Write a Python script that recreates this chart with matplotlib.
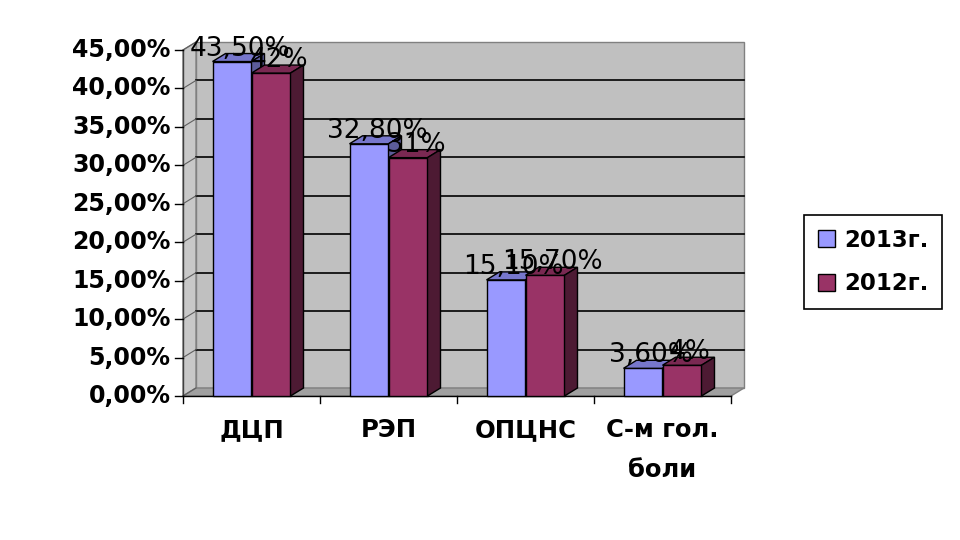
import matplotlib
matplotlib.use("Agg")
import matplotlib.pyplot as plt
from matplotlib.patches import Polygon, Patch

categories = ["ДЦП", "РЭП", "ОПЦНС", "С-м гол.\nболи"]
series_names = ["2013г.", "2012г."]
values_2013 = [43.5, 32.8, 15.1, 3.6]
values_2012 = [42.0, 31.0, 15.7, 4.0]
labels_2013 = ["43,50%", "32,80%", "15,10%", "3,60%"]
labels_2012 = ["42%", "31%", "15,70%", "4%"]
yticks = [0, 5, 10, 15, 20, 25, 30, 35, 40, 45]
ytick_labels = ["0,00%", "5,00%", "10,00%", "15,00%", "20,00%", "25,00%",
                "30,00%", "35,00%", "40,00%", "45,00%"]

front_colors = ["#9999FF", "#993366"]
top_colors = ["#7777CC", "#7A2952"]
side_colors = ["#5C5C99", "#4D1A33"]

plt.rcParams['font.family'] = ['DejaVu Sans']

W, H = 960, 540
fig = plt.figure(figsize=(9.6, 5.4), dpi=100)
fig.patch.set_facecolor("white")

x_left_px, x_right_px = 183, 731
y0_px, y45_px = 396, 50
ax = fig.add_axes([x_left_px / W, (H - y0_px) / H,
                   (x_right_px - x_left_px) / W, (y0_px - y45_px) / H])
ax.set_xlim(-0.5, 3.5)
ax.set_ylim(0, 45)
ax.axis("off")

px_per_x = (x_right_px - x_left_px) / 4.0
px_per_y = (y0_px - y45_px) / 45.0
DX = 13 / px_per_x
DY = 8 / px_per_y
xmin, xmax, ymax = -0.5, 3.5, 45

# walls
back = Polygon([(xmin + DX, DY), (xmax + DX, DY), (xmax + DX, ymax + DY), (xmin + DX, ymax + DY)],
               closed=True, facecolor="#C0C0C0", edgecolor="#808080", lw=1, clip_on=False, zorder=1)
ax.add_patch(back)
left = Polygon([(xmin, 0), (xmin + DX, DY), (xmin + DX, ymax + DY), (xmin, ymax)],
               closed=True, facecolor="#C8C8C8", edgecolor="#808080", lw=1, clip_on=False, zorder=1)
ax.add_patch(left)
floor = Polygon([(xmin, 0), (xmax, 0), (xmax + DX, DY), (xmin + DX, DY)],
                closed=True, facecolor="#A0A0A0", edgecolor="#808080", lw=1, clip_on=False, zorder=1)
ax.add_patch(floor)

# gridlines
for t in yticks[1:-1]:
    ax.plot([xmin + DX, xmax + DX], [t + DY, t + DY], color="black", lw=1.2, zorder=2, clip_on=False)
for t in yticks:
    ax.plot([xmin, xmin + DX], [t, t + DY], color="#606060", lw=0.8, zorder=2, clip_on=False)

# front axes lines and ticks
ax.plot([xmin, xmin], [0, ymax], color="#404040", lw=1, zorder=3, clip_on=False)
ax.plot([xmin, xmax], [0, 0], color="black", lw=1, zorder=3, clip_on=False)
tick_dx = 8 / px_per_x
tick_dy = 7 / px_per_y
for t, lab in zip(yticks, ytick_labels):
    ax.plot([xmin - tick_dx, xmin], [t, t], color="black", lw=1, zorder=3, clip_on=False)
    ax.annotate(lab, xy=(xmin, t), xytext=(-9, 0), textcoords="offset points",
                ha="right", va="center", fontsize=17, fontweight="bold", annotation_clip=False)
for b in range(5):
    xb = xmin + b
    ax.plot([xb, xb], [0, -tick_dy], color="black", lw=1, zorder=3, clip_on=False)

# bars
bw = 39 / px_per_x
all_vals = [values_2013, values_2012]
all_labs = [labels_2013, labels_2012]
for i in range(len(categories)):
    for s in range(2):
        v = all_vals[s][i]
        x0 = i - bw + s * bw
        x1 = x0 + bw
        z = 5 + s * 3
        ax.bar(x0, v, width=bw, align="edge", color=front_colors[s], edgecolor="black",
               lw=1, zorder=z, clip_on=False)
        top = Polygon([(x0, v), (x1, v), (x1 + DX, v + DY), (x0 + DX, v + DY)], closed=True,
                      facecolor=top_colors[s], edgecolor="black", lw=1, zorder=z + 1, clip_on=False)
        ax.add_patch(top)
        side = Polygon([(x1, 0), (x1 + DX, DY), (x1 + DX, v + DY), (x1, v)], closed=True,
                       facecolor=side_colors[s], edgecolor="black", lw=1, zorder=z + 1, clip_on=False)
        ax.add_patch(side)

for i in range(len(categories)):
    for s in range(2):
        v = all_vals[s][i]
        xc = i - bw / 2 + s * bw
        ax.annotate(all_labs[s][i], xy=(xc + DX / 2, v + DY), xytext=(1, -1.5),
                    textcoords="offset points", ha="center", va="baseline",
                    fontsize=19, color="black", zorder=20, annotation_clip=False)

# category labels
for i, c in enumerate(categories):
    ax.annotate(c, xy=(i, 0), xytext=(0, -16), textcoords="offset points",
                ha="center", va="top", fontsize=17.5, fontweight="bold",
                linespacing=1.85, multialignment="center", annotation_clip=False)

# legend
handles = [Patch(facecolor=front_colors[k], edgecolor="black", label=series_names[k]) for k in range(2)]
leg = fig.legend(handles=handles, loc="center", bbox_to_anchor=(873 / W, (H - 262) / H),
                 frameon=True, fancybox=False, framealpha=1, edgecolor="black",
                 prop={"size": 16.5, "weight": "bold"}, labelspacing=0.9,
                 handlelength=0.75, handleheight=0.75, handletextpad=0.4, borderpad=0.6)
leg.get_frame().set_linewidth(1.2)

fig.savefig("out.png", dpi=100)
